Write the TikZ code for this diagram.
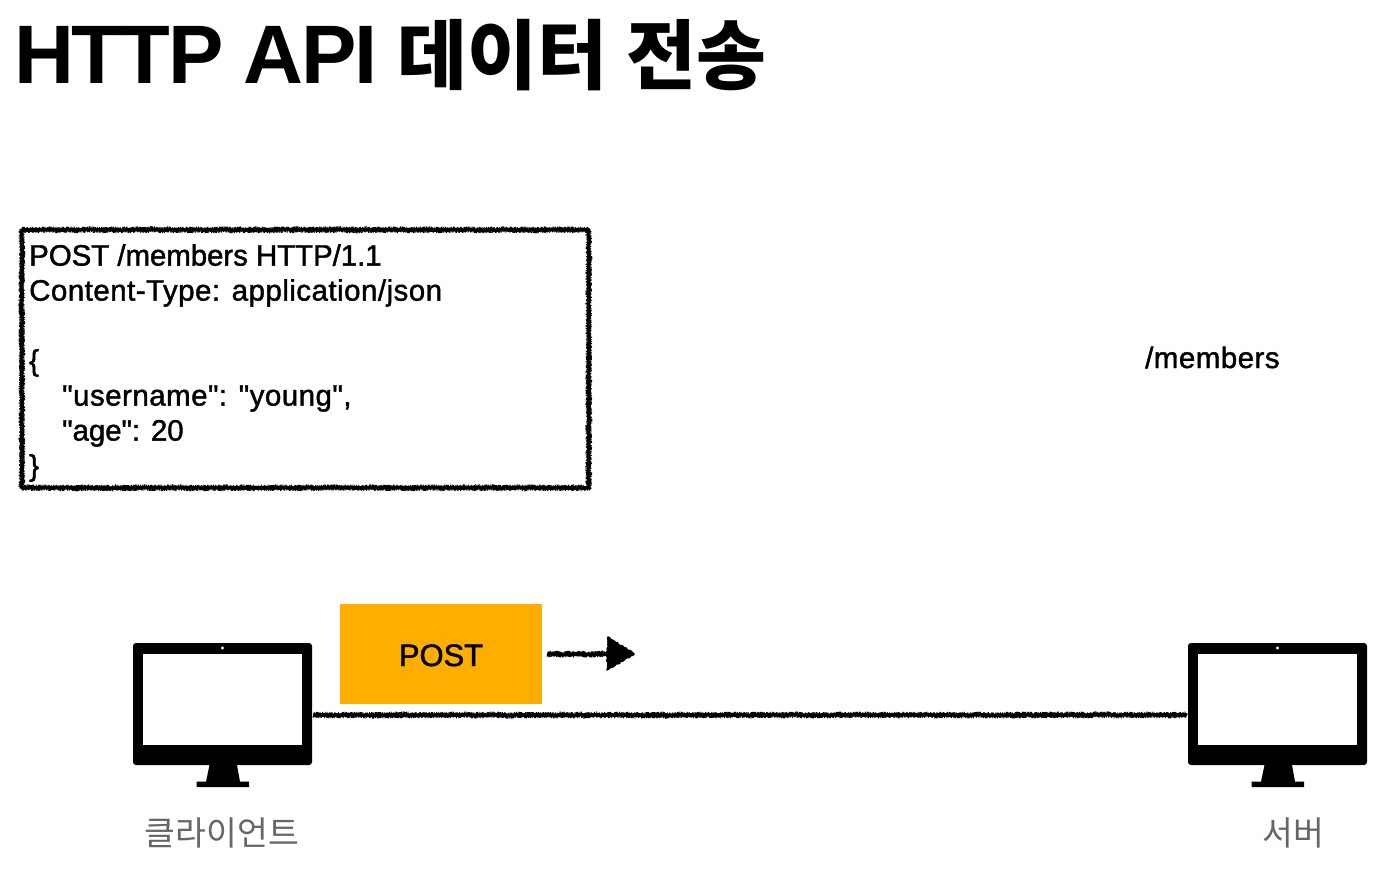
\documentclass[tikz,border=0pt]{standalone}
\usepackage{fontspec}
\setmainfont{Liberation Sans}
\newfontfamily\bodyfont[FakeBold=1.4,LetterSpace=-0.3]{Liberation Sans}
\newfontfamily\bodyfontW[FakeBold=1.4,LetterSpace=1.6]{Liberation Sans}
\newfontfamily\krfont{Noto Sans CJK KR}
\newfontfamily\krbold{Noto Sans CJK KR Bold}
\usetikzlibrary{decorations.pathmorphing}
\pgfmathsetseed{7}
\definecolor{postorange}{HTML}{FFAE00}
\definecolor{labelgray}{HTML}{666666}
\tikzset{
  x=1pt,y=-1pt,
  bodytext/.style={font=\bodyfont\fontsize{29.5}{35}\selectfont,text=black,inner sep=0pt},
  labeltext/.style={font=\krfont\fontsize{33.5}{40}\selectfont,text=labelgray,inner sep=0pt,anchor=base},
  rough/.style={draw=black,line width=3.6pt,line join=round,decorate,decoration={random steps,segment length=1.6pt,amplitude=0.6pt},
    preaction={draw=black,line width=5.8pt,line join=bevel,dash pattern=on 0.8pt off 0.9pt,decorate,decoration={random steps,segment length=1.3pt,amplitude=0.6pt}}},
  monbox/.style={minimum width=179pt,minimum height=144pt,inner sep=0pt,draw=none},
  pics/monitor/.style={code={
    \fill[black,rounded corners=3pt] (-89.5,-72) rectangle (89.5,50);
    \fill[white] (-80,-61.5) rectangle (79.5,29.5);
    \fill[white] (0,-67) circle (1.7);
    \fill[black] (-13,50) -- (14.5,50) -- (17.5,66.7) -- (26.5,66.7) -- (26.5,72) -- (-26,72) -- (-26,66.7) -- (-16.5,66.7) -- cycle;
  }}
}
\begin{document}
\begin{tikzpicture}
\useasboundingbox (0,0) rectangle (1392,873);
\fill[white] (0,0) rectangle (1392,873);
% title
\node[anchor=base west,inner sep=0pt] (title) at (14,83)
  {\fontsize{83}{90}\selectfont\bfseries\addfontfeature{LetterSpace=-3}HTTP API \krbold\fontsize{76}{90}\selectfont 데이터\hspace{1pt} 전송};
% message box
\node[rough,minimum width=567pt,minimum height=258pt,inner sep=0pt,anchor=north west] (msgbox) at (20,228) {};
\node[bodytext,anchor=north west,align=left] (msgtext) at (29,244)
  {POST /members HTTP/1.1\\{\bodyfontW\fontsize{29.5}{35}\selectfont Content-Type: application/json}\\\mbox{}\\\{\\\hspace*{33pt}{\bodyfontW\fontsize{29.5}{35}\selectfont "username": "young",}\\\hspace*{33pt}"age": 20\\\}};
\node[bodytext,anchor=base west] (path) at (1145,368) {\bodyfontW\fontsize{29.5}{35}\selectfont /members};
% POST box
\node[fill=postorange,minimum width=202pt,minimum height=100pt,inner sep=0pt] (post) at (441,654) {};
\node[font=\bodyfont\fontsize{31}{36}\selectfont,inner sep=0pt,anchor=base] (posttext) at (441,666) {POST};
\coordinate (arrowstart) at ([xshift=5pt]post.east);
\coordinate (arrowend) at (612,654);
\draw[rough] (arrowstart) -- (arrowend);
\fill[black,draw=black,line width=1.5pt,line join=round,decorate,decoration={random steps,segment length=1.6pt,amplitude=0.7pt}]
  (arrowend)+(-4,-17) -- (634,654) -- (607,670) -- cycle;
% monitors
\node[monbox] (client) at (222.5,715) {};
\node[monbox] (server) at (1277.5,715) {};
\pic at (client.center) {monitor};
\pic at (server.center) {monitor};
\draw[rough] ([xshift=1pt]client.east) -- ([xshift=-1pt]server.west);
% labels
\node[labeltext] (clientlabel) at (222,845) {클라이언트};
\node[labeltext] (serverlabel) at (1293,845) {서버};
\end{tikzpicture}
\end{document}
